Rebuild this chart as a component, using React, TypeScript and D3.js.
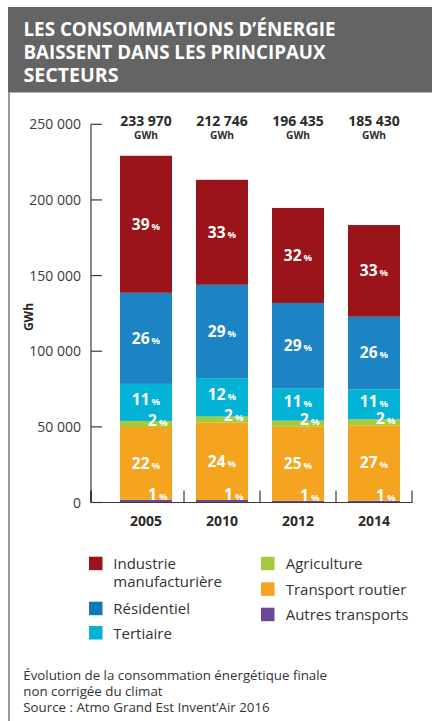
import React from "react";
import * as d3 from "d3";

const years = ["2005", "2010", "2012", "2014"];
const totals = ["233 970", "212 746", "196 435", "185 430"];

const seriesNames = [
  "Autres transports",
  "Transport routier",
  "Agriculture",
  "Tertiaire",
  "Résidentiel",
  "Industrie manufacturière",
];
const autresTransports = [1900, 1700, 1200, 1200];
const transportRoutier = [48000, 51100, 48900, 49800];
const agriculture = [4000, 4000, 4000, 4000];
const tertiaire = [24500, 25400, 21200, 19800];
const residentiel = [60200, 61700, 56600, 48000];
const industrie = [90600, 69400, 62800, 60600];

const pctAutres = [1, 1, 1, 1];
const pctRoutier = [22, 24, 25, 27];
const pctAgri = [2, 2, 2, 2];
const pctTertiaire = [11, 12, 11, 11];
const pctResidentiel = [26, 29, 29, 26];
const pctIndustrie = [39, 33, 32, 33];

const yTicks = [0, 50000, 100000, 150000, 200000, 250000];

const colors = ["#6b4894", "#f5a420", "#a6cb3a", "#03b3d5", "#1c83c5", "#9b141a"];
const legendColors: Record<string, string> = {
  "Industrie manufacturière": "#9b141a",
  "Résidentiel": "#0e78b9",
  "Tertiaire": "#03b3d5",
  "Agriculture": "#a6cb3a",
  "Transport routier": "#f5a420",
  "Autres transports": "#6b4894",
};

const seriesValues = [autresTransports, transportRoutier, agriculture, tertiaire, residentiel, industrie];
const seriesPct = [pctAutres, pctRoutier, pctAgri, pctTertiaire, pctResidentiel, pctIndustrie];

const FONT = "'Open Sans', 'Noto Sans', sans-serif";

export default function App() {
  const W = 432;
  const H = 721;
  const y = d3.scaleLinear().domain([0, 250000]).range([502.5, 124.3]);
  const x = d3
    .scaleBand<string>()
    .domain(years)
    .range([108, 412])
    .paddingInner(0.316)
    .paddingOuter(0.158);
  const bw = x.bandwidth();
  const step = x.step();

  const rows = years.map((yr, i) => {
    const r: Record<string, number | string> = { year: yr };
    seriesNames.forEach((s, k) => (r[s] = seriesValues[k][i]));
    return r;
  });
  const stack = d3.stack<Record<string, number | string>>().keys(seriesNames)(rows as any);

  const fmt = d3.formatLocale({ decimal: ",", thousands: " ", grouping: [3], currency: ["", "€"] }).format(",");

  const titleLines = ["LES CONSOMMATIONS D’ÉNERGIE", "BAISSENT DANS LES PRINCIPAUX", "SECTEURS"];
  const titleWidths = [312, 302, 95];

  const legendLeft = [
    { name: "Industrie manufacturière", lines: ["Industrie", "manufacturière"], y: 556.7 },
    { name: "Résidentiel", lines: ["Résidentiel"], y: 601.7 },
    { name: "Tertiaire", lines: ["Tertiaire"], y: 626 },
  ];
  const legendRight = [
    { name: "Agriculture", lines: ["Agriculture"], y: 556.7 },
    { name: "Transport routier", lines: ["Transport routier"], y: 582.3 },
    { name: "Autres transports", lines: ["Autres transports"], y: 607.7 },
  ];

  const pctLabel = (pct: number) => (
    <>
      <tspan fontSize={15.5}>{pct}</tspan>
      <tspan fontSize={9.5} dx={2}>%</tspan>
    </>
  );

  return (
    <svg width={W} height={H} style={{ position: "absolute", left: 0, top: 0 }} fontFamily={FONT}>
      <rect x={0} y={0} width={W} height={H} fill="#ffffff" />
      {/* title banner */}
      <rect x={8} y={7} width={W - 8} height={85.5} fill="#646464" />
      {titleLines.map((t, i) => (
        <text
          key={t}
          x={23.5}
          y={35.7 + i * 23}
          fill="#ffffff"
          fontSize={19.5}
          fontWeight={700}
          textLength={titleWidths[i]}
          lengthAdjust="spacingAndGlyphs"
        >
          {t}
        </text>
      ))}
      {/* left border */}
      <rect x={8} y={92} width={2} height={H - 92} fill="#9a9a9a" />

      {/* y axis */}
      <line x1={91} x2={91} y1={y(250000)} y2={y(0)} stroke="#3a3a3a" strokeWidth={1.2} />
      {yTicks.map((t) => (
        <g key={t}>
          <line x1={91} x2={102} y1={y(t)} y2={y(t)} stroke="#3a3a3a" strokeWidth={1.2} />
          <text x={81} y={y(t)} dy="0.36em" textAnchor="end" fontSize={14} fill="#3a3a3a">
            {fmt(t)}
          </text>
        </g>
      ))}
      <text
        transform={`translate(32.5,${317}) rotate(-90)`}
        textAnchor="middle"
        fontSize={12}
        fontWeight={700}
        fill="#222"
      >
        GWh
      </text>

      {/* bars */}
      {stack.map((layer, k) => (
        <g key={layer.key} fill={colors[k]}>
          {layer.map((d, i) => (
            <rect
              key={i}
              x={x(years[i])}
              y={y(d[1])}
              width={bw}
              height={y(d[0]) - y(d[1])}
            />
          ))}
        </g>
      ))}

      {/* baseline and separators */}
      <line x1={91} x2={412.5} y1={y(0)} y2={y(0)} stroke="#3a3a3a" strokeWidth={1.2} />
      {years.map((yr) => (
        <line
          key={yr}
          x1={(x(yr) as number) + bw + (step - bw) / 2}
          x2={(x(yr) as number) + bw + (step - bw) / 2}
          y1={y(0) - 12}
          y2={y(0)}
          stroke="#3a3a3a"
          strokeWidth={1.2}
        />
      ))}
      <line x1={91} x2={91} y1={y(0) - 12} y2={y(0)} stroke="#3a3a3a" strokeWidth={2} />

      {/* percentage labels */}
      {stack.map((layer, k) =>
        layer.map((d, i) => {
          const x0 = x(years[i]) as number;
          const cx = x0 + bw / 2;
          const pct = seriesPct[k][i];
          if (k === 0) {
            return (
              <text key={`${k}-${i}`} x={x0 + bw - 4.5} y={y(d[1]) + 0.5} textAnchor="end" fill="#fff" fontWeight={700}>
                {pctLabel(pct)}
              </text>
            );
          }
          if (k === 2) {
            return (
              <text key={`${k}-${i}`} x={x0 + bw - 4.5} y={y(d[0]) - 1.5} textAnchor="end" fill="#fff" fontWeight={700}>
                {pctLabel(pct)}
              </text>
            );
          }
          const mid = (y(d[0]) + y(d[1])) / 2 - (k === 3 ? 3.5 : 0.5);
          return (
            <text key={`${k}-${i}`} x={cx} y={mid} dy="0.36em" textAnchor="middle" fill="#fff" fontWeight={700}>
              {pctLabel(pct)}
            </text>
          );
        })
      )}

      {/* totals above bars */}
      {years.map((yr, i) => {
        const cx = (x(yr) as number) + bw / 2;
        return (
          <g key={yr}>
            <text x={cx} y={126.3} textAnchor="middle" fontSize={14} fontWeight={700} fill="#2b2b2b">
              {totals[i]}
            </text>
            <text x={cx} y={138.8} textAnchor="middle" fontSize={10.2} fontWeight={700} fill="#2b2b2b">
              GWh
            </text>
            <text x={cx} y={526} textAnchor="middle" fontSize={14} fontWeight={700} fill="#2b2b2b">
              {yr}
            </text>
          </g>
        );
      })}

      {/* legend */}
      {legendLeft.map((l) => (
        <g key={l.name}>
          <rect x={89} y={l.y} width={13.5} height={13.5} fill={legendColors[l.name]} />
          {l.lines.map((ln, j) => (
            <text key={ln} x={113.3} y={l.y + 12.6 + j * 17.4} fontSize={15} fill="#333">
              {ln}
            </text>
          ))}
        </g>
      ))}
      {legendRight.map((l) => (
        <g key={l.name}>
          <rect x={261} y={l.y} width={13.5} height={13.5} fill={legendColors[l.name]} />
          {l.lines.map((ln, j) => (
            <text key={ln} x={285.7} y={l.y + 12.6 + j * 17.4} fontSize={15} fill="#333">
              {ln}
            </text>
          ))}
        </g>
      ))}

      {/* footer */}
      <text x={23.3} y={680} fontSize={13.3} fill="#333">
        Évolution de la consommation énergétique finale
      </text>
      <text x={23.3} y={696} fontSize={13.3} fill="#333">
        non corrigée du climat
      </text>
      <text x={23.3} y={711.5} fontSize={13.3} fill="#333">
        Source : Atmo Grand Est Invent’Air 2016
      </text>
    </svg>
  );
}
